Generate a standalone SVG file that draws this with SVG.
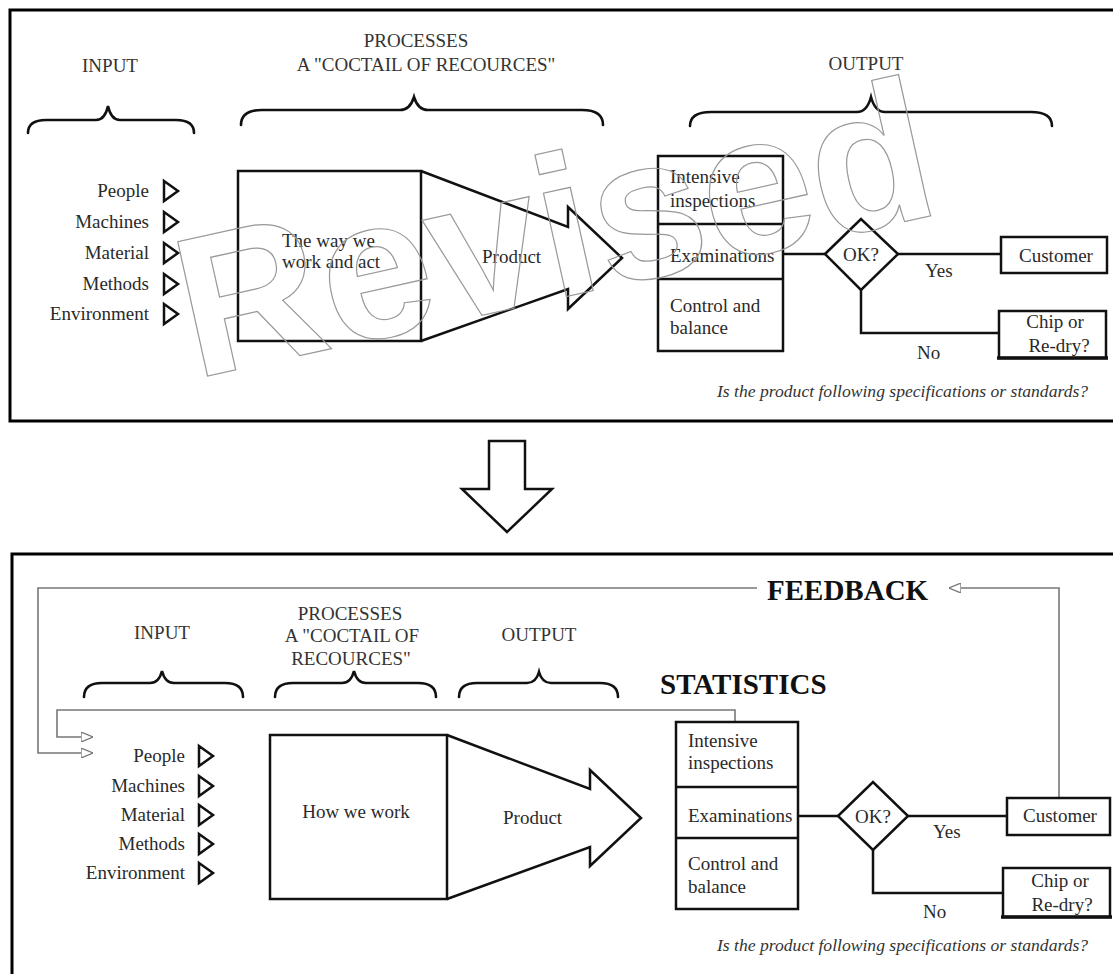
<svg xmlns="http://www.w3.org/2000/svg" width="1113" height="974" viewBox="0 0 1113 974">
<defs>
<style>
.t{font-family:"Liberation Serif","Times New Roman",serif;font-size:19px;fill:#2a2a2a}
.h{font-family:"Liberation Serif","Times New Roman",serif;font-size:19px;fill:#333;text-anchor:middle}
.m{text-anchor:middle}
.e{text-anchor:end}
.b{font-family:"Liberation Serif","Times New Roman",serif;font-weight:bold;font-size:29px;fill:#111}
.it{font-family:"Liberation Serif","Times New Roman",serif;font-style:italic;font-size:17.6px;fill:#333}
.s{stroke:#111;stroke-width:2.5;fill:none}
.w{stroke:#111;stroke-width:2.5;fill:#fff}
.br{stroke:#111;stroke-width:2.6;fill:none;stroke-linecap:round}
.frame{stroke:#000;stroke-width:3;fill:none}
.fb{stroke:#777;stroke-width:1.6;fill:none}
.wm{font-family:"Liberation Sans",Arial,sans-serif;font-weight:bold;font-size:200px;fill:none;stroke:#999;stroke-width:1.2}
</style>
<marker id="ah" viewBox="0 0 12 10" refX="12" refY="5" markerWidth="12" markerHeight="10" markerUnits="userSpaceOnUse" orient="auto">
<path d="M0,0 L12,5 L0,10 Z" fill="#fff" stroke="#777" stroke-width="1.3"/>
</marker>
</defs>
<rect width="1113" height="974" fill="#fff"/>

<!-- TOP PANEL -->
<rect id="top-frame" class="frame" x="10" y="10" width="1112" height="411"/>

<g id="top-input-heading">
<text class="h" x="110" y="72">INPUT</text>
<path class="br" d="M28,133 Q28,120 46,120 L96,120 Q105,120 108,106 Q111,120 120,120 L176,120 Q194,120 194,133"/>
</g>
<g id="top-process-heading">
<text class="h" x="416" y="47">PROCESSES</text>
<text class="h" x="426" y="71">A "COCTAIL OF RECOURCES"</text>
<path class="br" d="M241,125 Q241,110 262,110 L400,110 Q410,110 414,97 Q418,110 428,110 L582,110 Q603,110 603,125"/>
</g>
<g id="top-output-heading">
<text class="h" x="866" y="70">OUTPUT</text>
<path class="br" d="M690,126 Q690,112 711,112 L857,112 Q867,112 871,97 Q875,112 885,112 L1031,112 Q1052,112 1052,126"/>
</g>

<g id="top-inputs">
<text class="t e" x="149" y="197">People</text>
<text class="t e" x="149" y="228">Machines</text>
<text class="t e" x="149" y="259">Material</text>
<text class="t e" x="149" y="290">Methods</text>
<text class="t e" x="149" y="320">Environment</text>
<path class="s" d="M164,181 L178,191 L164,201 Z M164,212 L178,222 L164,232 Z M164,243 L178,253 L164,263 Z M164,274 L178,284 L164,294 Z M164,304 L178,314 L164,324 Z"/>
</g>

<g id="top-process">
<rect class="s" x="238" y="171" width="183" height="170"/>
<text class="t" x="282" y="247">The way we</text>
<text class="t" x="282" y="268">work and act</text>
</g>
<g id="top-product">
<polyline class="s" points="421,171 568,227 568,207 622,258 568,309 568,289 421,341"/>
<text class="t" x="482" y="263">Product</text>
</g>

<g id="top-output-stack">
<rect class="s" x="658" y="156" width="125" height="195"/>
<line class="s" x1="658" y1="224" x2="783" y2="224"/>
<line class="s" x1="658" y1="279" x2="783" y2="279"/>
<text class="t" x="670" y="183">Intensive</text>
<text class="t" x="670" y="207">inspections</text>
<text class="t" x="670" y="262">Examinations</text>
<text class="t" x="670" y="312">Control and</text>
<text class="t" x="670" y="334">balance</text>
</g>

<g id="top-connectors">
<polyline class="s" points="783,254 825,254"/>
<polyline class="s" points="898,254 1001,254"/>
<polyline class="s" points="861,290 861,333 999,333"/>
<text class="t" x="925" y="277">Yes</text>
<text class="t" x="917" y="359">No</text>
</g>

<g id="top-ok">
<polygon class="s" points="825,254 861,219 898,254 861,290"/>
<text class="t m" x="861" y="261">OK?</text>
</g>
<g id="top-customer">
<rect class="s" x="1001" y="237" width="106" height="36"/>
<text class="t m" x="1056" y="262">Customer</text>
</g>
<g id="top-chip">
<rect class="s" x="999" y="311" width="107" height="47"/>
<line x1="997" y1="358" x2="1108" y2="358" stroke="#111" stroke-width="3.5"/>
<text class="t m" x="1055" y="328">Chip or</text>
<text class="t m" x="1059" y="352">Re-dry?</text>
</g>
<text id="top-question" class="it" x="717" y="397">Is the product following specifications or standards?</text>

<g id="watermark">
<text class="wm" text-anchor="middle" transform="translate(569,296) rotate(-12.5)">Revised</text>
</g>

<!-- DOWN ARROW -->
<g id="down-arrow">
<polygon class="s" points="489,441 525,441 525,489 552,489 507,532 462,489 489,489"/>
</g>

<!-- BOTTOM PANEL -->
<rect id="bottom-frame" class="frame" x="12" y="554" width="1115" height="440"/>

<g id="feedback-connectors">
<path class="fb" d="M1059,798 V588 H949" marker-end="url(#ah)"/>
<path class="fb" d="M757,588 H38 V753 H93" marker-end="url(#ah)"/>
<path class="fb" d="M735,722 V710 H57 V737 H93" marker-end="url(#ah)"/>
</g>
<text id="feedback-label" class="b" x="767" y="600">FEEDBACK</text>
<text id="statistics-label" class="b" x="660" y="694">STATISTICS</text>

<g id="bot-input-heading">
<text class="h" x="162" y="639">INPUT</text>
<path class="br" d="M84,697 Q84,683 102,683 L150,683 Q159,683 162,671 Q165,683 174,683 L225,683 Q243,683 243,697"/>
</g>
<g id="bot-process-heading">
<text class="h" x="350" y="620">PROCESSES</text>
<text class="h" x="352" y="642">A "COCTAIL OF</text>
<text class="h" x="351" y="665">RECOURCES"</text>
<path class="br" d="M275,697 Q275,683 293,683 L342,683 Q351,683 354,671 Q357,683 366,683 L418,683 Q436,683 436,697"/>
</g>
<g id="bot-output-heading">
<text class="h" x="539" y="641">OUTPUT</text>
<path class="br" d="M459,697 Q459,683 477,683 L527,683 Q536,683 539,672 Q542,683 551,683 L600,683 Q618,683 618,697"/>
</g>

<g id="bot-inputs">
<text class="t e" x="185" y="762">People</text>
<text class="t e" x="185" y="792">Machines</text>
<text class="t e" x="185" y="821">Material</text>
<text class="t e" x="185" y="850">Methods</text>
<text class="t e" x="185" y="879">Environment</text>
<path class="s" d="M199,746 L213,756 L199,766 Z M199,776 L213,786 L199,796 Z M199,805 L213,815 L199,825 Z M199,834 L213,844 L199,854 Z M199,863 L213,873 L199,883 Z"/>
</g>

<g id="bot-process">
<rect class="s" x="270" y="735" width="177" height="164"/>
<text class="t m" x="356" y="818">How we work</text>
</g>
<g id="bot-product">
<polyline class="s" points="447,735 590,789 590,770 641,818 590,866 590,847 447,899"/>
<text class="t" x="503" y="824">Product</text>
</g>

<g id="bot-output-stack">
<rect class="s" x="676" y="722" width="122" height="187"/>
<line class="s" x1="676" y1="787" x2="798" y2="787"/>
<line class="s" x1="676" y1="838" x2="798" y2="838"/>
<text class="t" x="688" y="747">Intensive</text>
<text class="t" x="688" y="769">inspections</text>
<text class="t" x="688" y="822">Examinations</text>
<text class="t" x="688" y="870">Control and</text>
<text class="t" x="688" y="893">balance</text>
</g>

<g id="bot-connectors">
<polyline class="s" points="798,816 838,816"/>
<polyline class="s" points="908,816 1007,816"/>
<polyline class="s" points="873,850 873,893 1003,893"/>
<text class="t" x="933" y="838">Yes</text>
<text class="t" x="923" y="918">No</text>
</g>

<g id="bot-ok">
<polygon class="s" points="838,816 873,782 908,816 873,850"/>
<text class="t m" x="873" y="823">OK?</text>
</g>
<g id="bot-customer">
<rect class="s" x="1007" y="798" width="103" height="37"/>
<text class="t m" x="1060" y="822">Customer</text>
</g>
<g id="bot-chip">
<rect class="s" x="1003" y="868" width="107" height="49"/>
<line x1="1001" y1="917" x2="1112" y2="917" stroke="#111" stroke-width="3.5"/>
<text class="t m" x="1060" y="887">Chip or</text>
<text class="t m" x="1062" y="911">Re-dry?</text>
</g>
<text id="bot-question" class="it" x="717" y="951">Is the product following specifications or standards?</text>
</svg>
